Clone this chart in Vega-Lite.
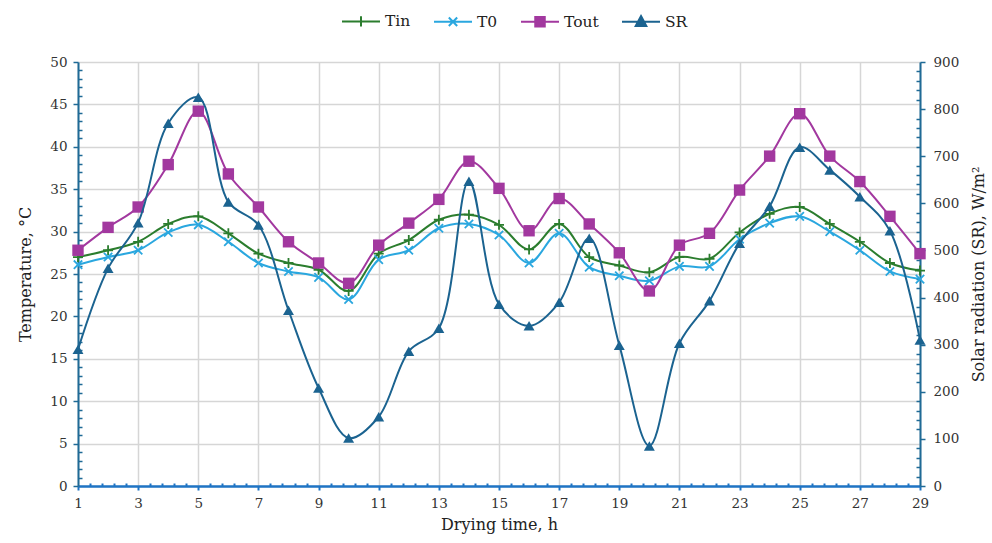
{
  "$schema": "https://vega.github.io/schema/vega-lite/v6.json",
  "width": 842,
  "height": 424,
  "autosize": {"type": "none"},
  "padding": {"left": 78, "top": 62, "right": 72, "bottom": 57},
  "background": "white",
  "config": {
    "view": {"stroke": null},
    "font": "DejaVu Serif",
    "axis": {
      "labelFont": "DejaVu Serif",
      "titleFont": "DejaVu Serif",
      "labelFontSize": 13.5,
      "titleFontSize": 16,
      "titleFontWeight": "normal",
      "labelColor": "#333333",
      "titleColor": "#222222"
    },
    "legend": {"labelFont": "DejaVu Serif", "labelFontSize": 15.5, "labelColor": "#222222"}
  },
  "data": {
    "values": [
      {"h": 1, "Tin": 27.0, "T0": 26.1, "Tout": 27.8, "SR": 290},
      {"h": 2, "Tin": 27.8, "T0": 27.0, "Tout": 30.5, "SR": 462},
      {"h": 3, "Tin": 28.8, "T0": 27.8, "Tout": 32.9, "SR": 559},
      {"h": 4, "Tin": 30.9, "T0": 29.9, "Tout": 37.9, "SR": 770},
      {"h": 5, "Tin": 31.8, "T0": 30.8, "Tout": 44.2, "SR": 825},
      {"h": 6, "Tin": 29.8, "T0": 28.8, "Tout": 36.8, "SR": 603},
      {"h": 7, "Tin": 27.4, "T0": 26.3, "Tout": 32.9, "SR": 554},
      {"h": 8, "Tin": 26.3, "T0": 25.3, "Tout": 28.8, "SR": 373},
      {"h": 9, "Tin": 25.5, "T0": 24.6, "Tout": 26.3, "SR": 208},
      {"h": 10, "Tin": 23.0, "T0": 22.0, "Tout": 23.9, "SR": 102},
      {"h": 11, "Tin": 27.4, "T0": 26.7, "Tout": 28.4, "SR": 147},
      {"h": 12, "Tin": 29.0, "T0": 27.8, "Tout": 31.0, "SR": 286},
      {"h": 13, "Tin": 31.4, "T0": 30.4, "Tout": 33.8, "SR": 335},
      {"h": 14, "Tin": 32.0, "T0": 30.9, "Tout": 38.3, "SR": 647},
      {"h": 15, "Tin": 30.8, "T0": 29.6, "Tout": 35.1, "SR": 386},
      {"h": 16, "Tin": 27.9, "T0": 26.3, "Tout": 30.1, "SR": 340},
      {"h": 17, "Tin": 30.9, "T0": 29.8, "Tout": 33.9, "SR": 390},
      {"h": 18, "Tin": 27.0, "T0": 25.8, "Tout": 30.9, "SR": 526},
      {"h": 19, "Tin": 26.0, "T0": 24.8, "Tout": 27.5, "SR": 299},
      {"h": 20, "Tin": 25.2, "T0": 24.2, "Tout": 23.0, "SR": 85},
      {"h": 21, "Tin": 27.0, "T0": 25.9, "Tout": 28.4, "SR": 303},
      {"h": 22, "Tin": 26.8, "T0": 25.9, "Tout": 29.8, "SR": 393},
      {"h": 23, "Tin": 29.9, "T0": 29.1, "Tout": 34.9, "SR": 515},
      {"h": 24, "Tin": 32.1, "T0": 31.0, "Tout": 38.9, "SR": 594},
      {"h": 25, "Tin": 32.9, "T0": 31.8, "Tout": 43.9, "SR": 719},
      {"h": 26, "Tin": 30.9, "T0": 30.0, "Tout": 38.9, "SR": 671},
      {"h": 27, "Tin": 28.8, "T0": 27.8, "Tout": 35.9, "SR": 614},
      {"h": 28, "Tin": 26.3, "T0": 25.3, "Tout": 31.8, "SR": 542},
      {"h": 29, "Tin": 25.4, "T0": 24.4, "Tout": 27.4, "SR": 310}
    ]
  },
  "transform": [{"fold": ["Tin", "T0", "Tout", "SR"], "as": ["series", "value"]}],
  "encoding": {
    "x": {
      "field": "h",
      "type": "quantitative",
      "scale": {"domain": [1, 29], "nice": false, "zero": false},
      "axis": {
        "title": "Drying time, h",
        "values": [1,1.4,1.8,2.2,2.6,3,3.4,3.8,4.2,4.6,5,5.4,5.8,6.2,6.6,7,7.4,7.8,8.2,8.6,9,9.4,9.8,10.2,10.6,11,11.4,11.8,12.2,12.6,13,13.4,13.8,14.2,14.6,15,15.4,15.8,16.2,16.6,17,17.4,17.8,18.2,18.6,19,19.4,19.8,20.2,20.6,21,21.4,21.8,22.2,22.6,23,23.4,23.8,24.2,24.6,25,25.4,25.8,26.2,26.6,27,27.4,27.8,28.2,28.6,29],
        "labelExpr": "abs((datum.value-1)/2 - round((datum.value-1)/2)) < 0.01 ? format(datum.value, 'd') : ''",
        "labelFlush": false,
        "domainColor": "#1f74c4",
        "domainWidth": 2.5,
        "tickColor": "#1f74c4",
        "tickWidth": 2,
        "tickSize": {"condition": {"test": "abs((datum.value-1)/2 - round((datum.value-1)/2)) < 0.01", "value": 4}, "value": -3},
        "labelPadding": 6,
        "titlePadding": 7,
        "grid": true,
        "gridColor": "#d6d6d6",
        "gridWidth": 1.5,
        "gridOpacity": {"condition": {"test": "abs((datum.value-1)/2 - round((datum.value-1)/2)) < 0.01", "value": 1}, "value": 0}
      }
    }
  },
  "layer": [
    {
      "transform": [{"filter": "datum.series !== 'SR'"}],
      "encoding": {
        "y": {
          "field": "value",
          "type": "quantitative",
          "scale": {"domain": [0, 50], "nice": false},
          "axis": {
            "orient": "left",
            "title": "Temperature, °C",
            "values": [0,1,2,3,4,5,6,7,8,9,10,11,12,13,14,15,16,17,18,19,20,21,22,23,24,25,26,27,28,29,30,31,32,33,34,35,36,37,38,39,40,41,42,43,44,45,46,47,48,49,50],
            "labelExpr": "datum.value % 5 === 0 ? datum.label : ''",
            "domainColor": "#1f6a96",
            "domainWidth": 2,
            "tickColor": "#1f6a96",
            "tickWidth": 1.5,
            "tickSize": {"condition": {"test": "datum.value % 5 === 0", "value": 5}, "value": -4},
            "labelPadding": 6,
            "titlePadding": 16,
            "grid": true,
            "gridColor": "#d6d6d6",
            "gridWidth": 1.5,
            "gridOpacity": {"condition": {"test": "datum.value % 5 === 0", "value": 1}, "value": 0}
          }
        }
      },
      "layer": [
        {
          "mark": {"type": "line", "interpolate": "catmull-rom", "strokeWidth": 2},
          "encoding": {
            "color": {
              "field": "series",
              "type": "nominal",
              "sort": ["Tin", "T0", "Tout", "SR"],
              "scale": {"domain": ["Tin", "T0", "Tout", "SR"], "range": ["#2b7d2e", "#2aa7df", "#a2389f", "#1b6390"]},
              "legend": {
                "title": null,
                "orient": "none",
                "direction": "horizontal",
                "legendX": 263,
                "legendY": -61,
                "symbolSize": 1444,
                "symbolStrokeWidth": 2,
                "labelOffset": 4,
                "columnPadding": 19,
                "encode": {
                  "symbols": {
                    "update": {
                      "shape": {"signal": "datum.value === 'Tin' ? 'M-1,0H1M0,-0.27V0.27' : datum.value === 'T0' ? 'M-1,0H1M-0.22,-0.22L0.22,0.22M-0.22,0.22L0.22,-0.22' : datum.value === 'Tout' ? 'M-1,0H1M-0.25,-0.25H0.25V0.25H-0.25Z' : 'M-1,0H1M0,-0.3L0.28,0.22H-0.28Z'"},
                      "stroke": {"scale": "color", "field": "value"},
                      "fill": {"signal": "datum.value === 'Tout' || datum.value === 'SR' ? scale('color', datum.value) : 'transparent'"},
                      "strokeWidth": {"value": 2},
                      "opacity": {"value": 1}
                    }
                  }
                }
              }
            }
          }
        },
        {
          "transform": [{"filter": "datum.series === 'Tin'"}],
          "mark": {"type": "point", "shape": "M-1,0H1M0,-1V1", "filled": false, "size": 100, "strokeWidth": 1.8, "opacity": 1},
          "encoding": {"color": {"field": "series", "type": "nominal", "legend": null}}
        },
        {
          "transform": [{"filter": "datum.series === 'T0'"}],
          "mark": {"type": "point", "shape": "M-1,-1L1,1M-1,1L1,-1", "filled": false, "size": 70, "strokeWidth": 1.8, "opacity": 1},
          "encoding": {"color": {"field": "series", "type": "nominal", "legend": null}}
        },
        {
          "transform": [{"filter": "datum.series === 'Tout'"}],
          "mark": {"type": "point", "shape": "square", "filled": true, "size": 130, "opacity": 1},
          "encoding": {"color": {"field": "series", "type": "nominal", "legend": null}}
        }
      ]
    },
    {
      "transform": [{"filter": "datum.series === 'SR'"}],
      "encoding": {
        "y": {
          "field": "value",
          "type": "quantitative",
          "scale": {"domain": [0, 900], "nice": false},
          "axis": {
            "orient": "right",
            "title": "Solar radiation (SR), W/m²",
            "titleAngle": 270,
            "titleBaseline": "top",
            "values": [0,20,40,60,80,100,120,140,160,180,200,220,240,260,280,300,320,340,360,380,400,420,440,460,480,500,520,540,560,580,600,620,640,660,680,700,720,740,760,780,800,820,840,860,880,900],
            "labelExpr": "datum.value % 100 === 0 ? datum.label : ''",
            "domainColor": "#1f6a96",
            "domainWidth": 2,
            "tickColor": "#1f6a96",
            "tickWidth": 1.5,
            "tickSize": {"condition": {"test": "datum.value % 100 === 0", "value": 5}, "value": -4},
            "labelPadding": 8,
            "titlePadding": 12,
            "grid": false
          }
        }
      },
      "layer": [
        {
          "mark": {"type": "line", "interpolate": "catmull-rom", "strokeWidth": 2},
          "encoding": {"color": {"field": "series", "type": "nominal", "legend": null}}
        },
        {
          "mark": {"type": "point", "shape": "triangle-up", "filled": true, "size": 120, "opacity": 1},
          "encoding": {"color": {"field": "series", "type": "nominal", "legend": null}}
        }
      ]
    }
  ],
  "resolve": {"scale": {"y": "independent"}}
}
